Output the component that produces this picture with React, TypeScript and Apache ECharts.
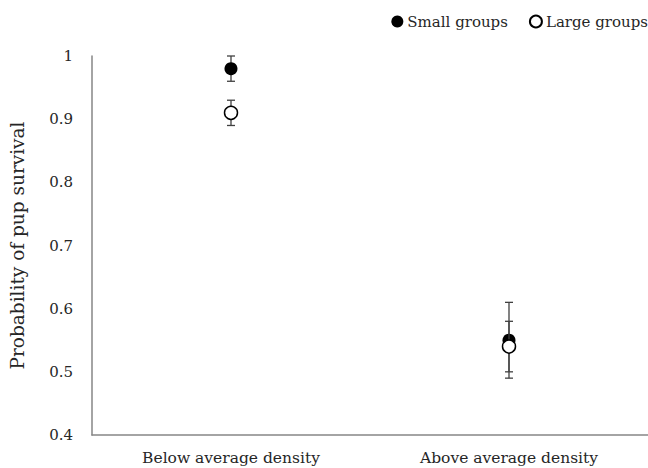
import React, { useEffect, useRef } from "react";
import * as echarts from "echarts";

const categories = ["Below average density", "Above average density"];
const smallMeans = [0.98, 0.55];
const smallErr = [0.02, 0.06];
const largeMeans = [0.91, 0.54];
const largeErr = [0.02, 0.04];
const seriesNames = ["Small groups", "Large groups"];

const FONT = "DejaVu Serif";

function errData(means: number[], errs: number[]) {
  return means.map((m, i) => [i, m - errs[i], m + errs[i]]);
}

function errRender(params: any, api: any) {
  const x = api.value(0);
  const lo = api.coord([x, api.value(1)]);
  const hi = api.coord([x, api.value(2)]);
  const cap = 4;
  const style = { stroke: "#404040", lineWidth: 1.3 };
  return {
    type: "group",
    children: [
      { type: "line", shape: { x1: lo[0], y1: lo[1], x2: hi[0], y2: hi[1] }, style },
      { type: "line", shape: { x1: lo[0] - cap, y1: lo[1], x2: lo[0] + cap, y2: lo[1] }, style },
      { type: "line", shape: { x1: hi[0] - cap, y1: hi[1], x2: hi[0] + cap, y2: hi[1] }, style },
    ],
  };
}

export default function App() {
  const ref = useRef<HTMLDivElement>(null);
  useEffect(() => {
    document.body.style.margin = "0";
    const chart = echarts.init(ref.current!, null, { renderer: "svg" });
    chart.setOption({
      animation: false,
      backgroundColor: "#ffffff",
      textStyle: { fontFamily: FONT },
      legend: {
        top: 14,
        right: 0,
        padding: 0,
        itemGap: 21,
        itemWidth: 12,
        itemHeight: 12,
        icon: "circle",
        data: seriesNames,
        textStyle: { fontFamily: FONT, fontSize: 15, color: "#262626", padding: [0, 0, 0, -1] },
      },
      grid: { left: 86, right: 0, top: 56, bottom: 33, containLabel: false },
      xAxis: {
        type: "category",
        data: categories,
        boundaryGap: true,
        axisTick: { show: false },
        axisLine: { lineStyle: { color: "#868686", width: 1.5 } },
        axisLabel: { fontFamily: FONT, fontSize: 15.5, color: "#262626", margin: 15 },
      },
      yAxis: {
        type: "value",
        min: 0.4,
        max: 1,
        interval: 0.1,
        name: "Probability of pup survival",
        nameLocation: "middle",
        nameGap: 65,
        nameTextStyle: { fontFamily: FONT, fontSize: 18.5, color: "#262626" },
        axisLine: { show: true, lineStyle: { color: "#868686", width: 1.5 } },
        axisTick: { show: false },
        splitLine: { show: false },
        axisLabel: {
          fontFamily: FONT,
          fontSize: 15,
          color: "#262626",
          margin: 19,
          formatter: (v: number) => String(Math.round(v * 10) / 10),
        },
      },
      series: [
        {
          type: "custom",
          name: "smallErr",
          renderItem: errRender,
          data: errData(smallMeans, smallErr),
          z: 1,
          silent: true,
        },
        {
          type: "scatter",
          name: seriesNames[0],
          data: smallMeans.map((v, i) => [i, v]),
          symbol: "circle",
          symbolSize: 13,
          itemStyle: { color: "#000000", opacity: 1 },
          z: 2,
        },
        {
          type: "custom",
          name: "largeErr",
          renderItem: errRender,
          data: errData(largeMeans, largeErr),
          z: 3,
          silent: true,
        },
        {
          type: "scatter",
          name: seriesNames[1],
          data: largeMeans.map((v, i) => [i, v]),
          symbol: "circle",
          symbolSize: 13,
          itemStyle: { color: "#ffffff", borderColor: "#000000", borderWidth: 1.5, opacity: 1 },
          z: 4,
        },
      ],
    });
    return () => chart.dispose();
  }, []);
  return <div ref={ref} style={{ width: 648, height: 468 }} />;
}
